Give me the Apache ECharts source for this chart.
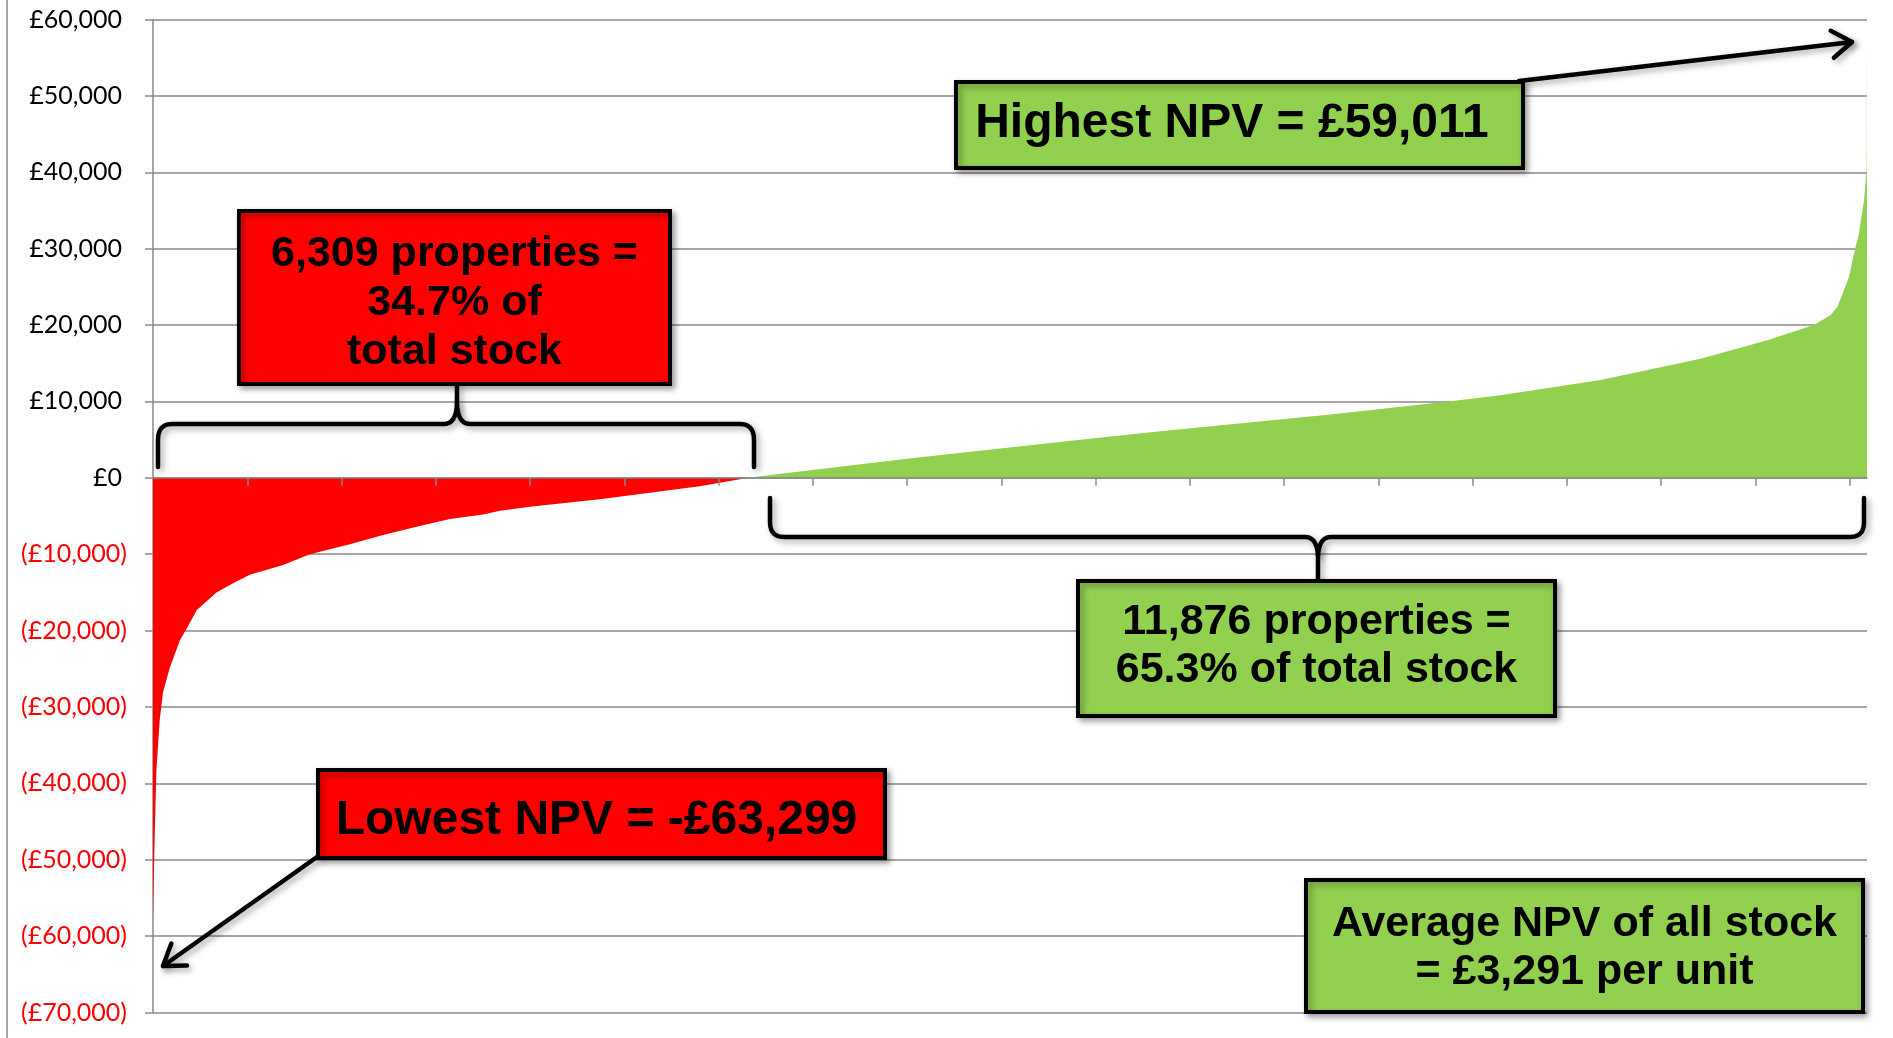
<!DOCTYPE html>
<html>
<head>
<meta charset="utf-8">
<script src="https://cdn.jsdelivr.net/npm/echarts@6/dist/echarts.min.js"></script>
<style>
html, body { margin: 0; padding: 0; background: #fff; }
#main { width: 1893px; height: 1038px; }
</style>
</head>
<body>
<div id="main"></div>
<script>
// properties sorted by NPV: rank on x, NPV (£) on y
var redRank = [0, 18, 36, 71, 106, 177, 285, 355, 465, 673, 849, 1027, 1380, 1664, 2088, 2442, 2796, 3150, 3503, 3680, 3999, 4740, 5800, 6228, 6309];
var redValue = [-57700, -46900, -38400, -31700, -28100, -24900, -21300, -19800, -17300, -15000, -13800, -12700, -11400, -10000, -8700, -7500, -6400, -5400, -4800, -4300, -3800, -2800, -1100, -200, 0];

var greenRank = [6309, 7998, 9766, 10687, 12492, 13744, 14296, 15358, 16419, 17127, 17622, 17799, 17871, 17941, 17994, 18047, 18100, 18153, 18182, 18185];
var greenValue = [0, 2500, 4900, 6100, 8300, 10000, 10800, 12800, 15600, 18000, 20000, 21300, 22400, 24600, 26300, 29400, 32000, 36300, 40300, 59011];

var xTicks = [1000, 2000, 3000, 4000, 5000, 6000, 7000, 8000, 9000, 10000, 11000, 12000, 13000, 14000, 15000, 16000, 17000, 18000];
var totalStock = 18185;

var boxNegCount = '6,309 properties =\n34.7% of\ntotal stock';
var boxPosCount = '11,876 properties =\n65.3% of total stock';
var boxHighest = 'Highest NPV = £59,011';
var boxLowest = 'Lowest NPV = -£63,299';
var boxAverage = 'Average NPV of all stock\n= £3,291 per unit';

function zip(a, b) {
	var out = [];
	for (var i = 0; i < a.length; i++) out.push([a[i], b[i]]);
	return out;
}

function money(v) {
	var s = Math.abs(v).toString().replace(/\B(?=(\d{3})+(?!\d))/g, ',');
	if (v < 0) return '{neg|(£' + s + ')}';
	return '{pos|£' + s + '}';
}

var shadow = { shadowBlur: 6, shadowOffsetX: 3, shadowOffsetY: 3, shadowColor: 'rgba(0,0,0,0.35)' };

// tx, ty = centre of the text block
function box(x, y, w, h, fill, text, size, lineH, tx, ty) {
	return [
		{
			type: 'rect',
			z: 100,
			shape: { x: x, y: y, width: w, height: h },
			style: Object.assign({ fill: fill, stroke: '#000', lineWidth: 4 }, shadow)
		},
		{
			type: 'text',
			z: 101,
			style: {
				text: text,
				x: tx,
				y: ty,
				align: 'center',
				verticalAlign: 'middle',
				font: 'bold ' + size + 'px "Liberation Sans", Arial, sans-serif',
				lineHeight: lineH,
				fill: '#000'
			}
		}
	];
}

// segments: [x, y] = straight to point, [cx, cy, x, y] = quadratic curve
function curvePoints(start, segs) {
	var pts = [start];
	var cur = start;
	segs.forEach(function (s) {
		if (s.length === 2) {
			pts.push(s);
		} else {
			for (var t = 1; t <= 10; t++) {
				var k = t / 10, m = 1 - k;
				pts.push([
					m * m * cur[0] + 2 * m * k * s[0] + k * k * s[2],
					m * m * cur[1] + 2 * m * k * s[1] + k * k * s[3]
				]);
			}
		}
		cur = pts[pts.length - 1];
	});
	return pts;
}

function stroke(pts) {
	return {
		type: 'polyline',
		z: 90,
		shape: { points: pts },
		style: Object.assign({ fill: null, stroke: '#000', lineWidth: 4.5, lineCap: 'round', lineJoin: 'round' }, shadow)
	};
}

function arrow(x1, y1, x2, y2) {
	var a = Math.atan2(y2 - y1, x2 - x1);
	var len = 24, spread = 0.6;
	return [
		stroke([[x1, y1], [x2, y2]]),
		stroke([
			[x2 - len * Math.cos(a - spread), y2 - len * Math.sin(a - spread)],
			[x2, y2],
			[x2 - len * Math.cos(a + spread), y2 - len * Math.sin(a + spread)]
		])
	];
}

var chart = echarts.init(document.getElementById('main'), null, { renderer: 'canvas' });

var graphics = [
	{
		type: 'line',
		z: 90,
		shape: { x1: 7, y1: 0, x2: 7, y2: 1038 },
		style: { stroke: '#888', lineWidth: 1.5 }
	},
	// brace over the loss-making stock
	stroke(curvePoints([158, 467], [[158, 440], [158, 424, 172, 424], [444, 424], [456, 424, 457, 404], [457, 386]])),
	stroke(curvePoints([457, 404], [[458, 424, 470, 424], [740, 424], [754, 424, 754, 440], [754, 467]])),
	// brace under the positive stock
	stroke(curvePoints([770, 498], [[770, 522], [770, 537, 784, 537], [1305, 537], [1317, 537, 1318, 556], [1318, 579]])),
	stroke(curvePoints([1318, 556], [[1319, 537, 1331, 537], [1850, 537], [1864, 537, 1864, 522], [1864, 498]]))
].concat(
	arrow(1519, 81, 1852, 42),
	arrow(317, 857, 163, 966),
	box(239, 211, 431, 173, '#ff0000', boxNegCount, 43, 49, 454.5, 303),
	box(956, 82, 567, 86, '#92d050', boxHighest, 48, 52, 1232, 123.5),
	box(1078, 581, 477, 135, '#92d050', boxPosCount, 43, 48, 1316.5, 646.5),
	box(318, 770, 567, 88, '#ff0000', boxLowest, 48, 52, 596.5, 820.5),
	box(1306, 880, 557, 132, '#92d050', boxAverage, 43, 48, 1584.5, 948.5)
);

var option = {
	animation: false,
	backgroundColor: '#fff',
	grid: { left: 153, right: 26, top: 19.5, bottom: 25.5 },
	xAxis: {
		type: 'value',
		min: 0,
		max: totalStock,
		interval: 1000,
		z: 5,
		axisLine: { onZero: true, lineStyle: { color: '#888', width: 1.5 } },
		axisTick: { show: true, length: 8, customValues: xTicks, lineStyle: { color: '#888', width: 1.5 } },
		axisLabel: { show: false },
		splitLine: { show: false }
	},
	yAxis: {
		type: 'value',
		min: -70000,
		max: 60000,
		interval: 10000,
		axisLine: { show: true, lineStyle: { color: '#888', width: 1.5 } },
		axisTick: { show: true, length: 8, lineStyle: { color: '#888', width: 1.5 } },
		splitLine: { show: true, lineStyle: { color: '#888', width: 1.5 } },
		axisLabel: {
			margin: 26,
			formatter: money,
			rich: {
				pos: { color: '#000', fontFamily: 'Lato, sans-serif', fontSize: 25, padding: [0, 5, 0, 0] },
				neg: { color: '#ff0000', fontFamily: 'Lato, sans-serif', fontSize: 25 }
			}
		}
	},
	series: [
		{
			name: 'Negative NPV',
			type: 'line',
			data: zip(redRank, redValue),
			symbol: 'none',
			silent: true,
			lineStyle: { width: 0 },
			itemStyle: { color: '#ff0000' },
			areaStyle: { color: '#ff0000', opacity: 1 }
		},
		{
			name: 'Positive NPV',
			type: 'line',
			data: zip(greenRank, greenValue),
			symbol: 'none',
			silent: true,
			lineStyle: { width: 0 },
			itemStyle: { color: '#92d050' },
			areaStyle: { color: '#92d050', opacity: 1 }
		}
	],
	graphic: graphics
};

chart.setOption(option);
</script>
</body>
</html>
